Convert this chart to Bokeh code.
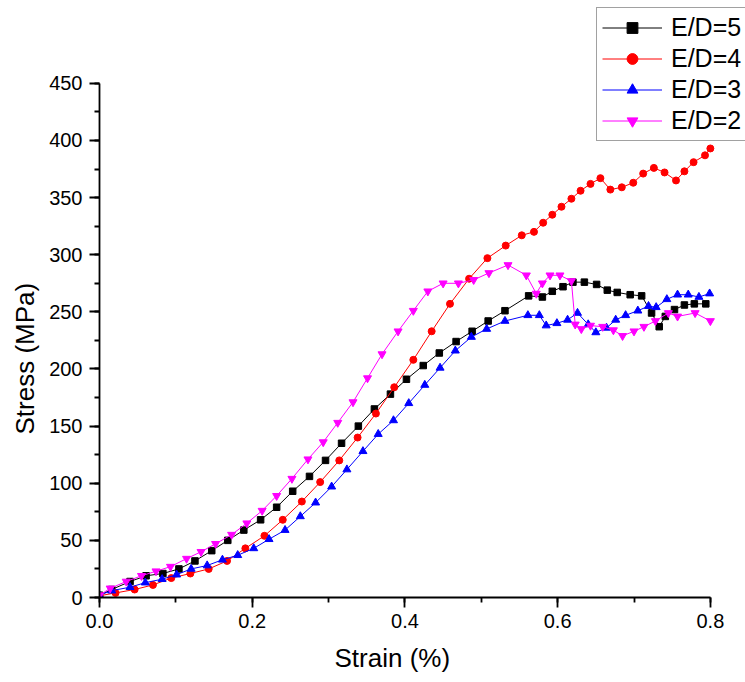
from bokeh.plotting import figure
from bokeh.models import Legend, LegendItem, SingleIntervalTicker, Range1d, Title
from bokeh.embed import file_html
from bokeh.resources import INLINE

# E/D=5 (black squares)
strain_5 = [0.0, 0.016, 0.040, 0.061, 0.083, 0.104, 0.125, 0.147, 0.168, 0.189, 0.211, 0.232,
            0.253, 0.275, 0.296, 0.317, 0.339, 0.360, 0.381, 0.402, 0.424, 0.445, 0.467, 0.488,
            0.509, 0.531, 0.562, 0.580, 0.593, 0.607, 0.620, 0.635, 0.651, 0.665, 0.678, 0.695,
            0.710, 0.723, 0.733, 0.741, 0.753, 0.766, 0.779, 0.794]
stress_5 = [2, 7, 14, 19, 21, 25, 32, 41, 50, 59, 68, 79,
            93, 106, 120, 135, 150, 165, 178, 191, 203, 214, 224, 233,
            242, 251, 264, 263, 268, 272, 276, 276, 274, 269, 267, 265,
            264, 249, 237, 246, 252, 256, 257, 257]

# E/D=4 (red circles)
strain_4 = [0.0, 0.021, 0.046, 0.070, 0.094, 0.119, 0.143, 0.167, 0.191, 0.216, 0.240, 0.265,
            0.289, 0.314, 0.338, 0.362, 0.386, 0.411, 0.435, 0.459, 0.484, 0.508, 0.532, 0.553,
            0.569, 0.581, 0.593, 0.605, 0.618, 0.630, 0.643, 0.656, 0.669, 0.684, 0.699, 0.712,
            0.726, 0.740, 0.755, 0.766, 0.778, 0.793, 0.800]
stress_4 = [1.5, 4, 7, 11, 17, 21, 25, 32, 43, 54, 68, 84,
            101, 120, 140, 161, 184, 208, 233, 257, 279, 297, 308, 317,
            320, 328, 335, 342, 349, 356, 362, 367, 357, 359, 363, 371,
            376, 372, 365, 373, 381, 387, 393]

# E/D=3 (blue triangles)
strain_3 = [0.0, 0.016, 0.040, 0.060, 0.082, 0.101, 0.120, 0.141, 0.161, 0.181, 0.202, 0.222,
            0.243, 0.263, 0.283, 0.304, 0.324, 0.345, 0.365, 0.385, 0.405, 0.426, 0.446, 0.466,
            0.487, 0.507, 0.531, 0.561, 0.576, 0.585, 0.599, 0.613, 0.626, 0.640, 0.650, 0.664,
            0.676, 0.689, 0.705, 0.719, 0.729, 0.743, 0.757, 0.771, 0.785, 0.799]
stress_3 = [2, 6, 9, 13, 16, 20, 25, 28, 33, 37, 43, 51,
            59, 71, 83, 97, 112, 128, 143, 155, 170, 186, 201, 216,
            228, 235, 242, 247, 247, 238, 240, 243, 249, 239, 232, 236,
            243, 247, 251, 255, 254, 261, 265, 265, 263, 266]

# E/D=2 (magenta inverted triangles)
strain_2 = [0.0, 0.014, 0.035, 0.055, 0.074, 0.093, 0.114, 0.133, 0.152, 0.173, 0.193, 0.213,
            0.232, 0.252, 0.273, 0.293, 0.312, 0.332, 0.351, 0.370, 0.391, 0.411, 0.430, 0.450,
            0.470, 0.490, 0.510, 0.535, 0.559, 0.572, 0.580, 0.590, 0.603, 0.618, 0.623, 0.631,
            0.643, 0.659, 0.673, 0.685, 0.700, 0.713, 0.728, 0.745, 0.757, 0.780, 0.800]
stress_2 = [2, 8, 14, 19, 23, 27, 34, 40, 47, 55, 65, 76,
            89, 104, 121, 136, 153, 171, 192, 213, 233, 251, 268, 275,
            275, 278, 284, 291, 282, 266, 275, 282, 282, 277, 239, 235,
            238, 237, 234, 229, 233, 237, 242, 249, 246, 249, 242]

labels = ["E/D=5", "E/D=4", "E/D=3", "E/D=2"]
x_label = "Strain (%)"
y_label = "Stress (MPa)"
FONT = "Liberation Sans"

# frame spans the whole upper-right area so the legend can sit above/right of the axes;
# the axes themselves are bounded to 0..0.8 and 0..450
p = figure(width=745, height=682, output_backend="svg", toolbar_location=None,
           x_range=Range1d(0, 0.846), y_range=Range1d(0, 522.5),
           min_border_left=98, min_border_right=0, min_border_top=0, min_border_bottom=84)
p.outline_line_color = None
p.xgrid.visible = False
p.ygrid.visible = False
p.background_fill_color = "white"
p.border_fill_color = "white"

series = [
    (strain_5, stress_5, "black", "square", 6.5),
    (strain_4, stress_4, "#ff0000", "circle", 7),
    (strain_3, stress_3, "#0000ff", "triangle", 8),
    (strain_2, stress_2, "#ff00ff", "inverted_triangle", 8),
]
items = []
for (xs, ys, col, mk, sz), lab in zip(series, labels):
    l = p.line(xs, ys, line_color=col, line_width=1)
    s = p.scatter(xs, ys, marker=mk, size=sz, fill_color=col, line_color=col)
    items.append(LegendItem(label=lab, renderers=[l, s]))

legend = Legend(items=items, location=(497, 456), orientation="vertical")
legend.label_text_font = FONT
legend.label_text_font_size = "25px"
legend.label_text_color = "black"
legend.glyph_width = 60
legend.glyph_height = 27
legend.label_height = 27
legend.label_width = 100
legend.spacing = 2
legend.padding = 5
legend.margin = 0
legend.label_standoff = 9
legend.border_line_color = "#444444"
legend.border_line_width = 1.5
legend.background_fill_color = "white"
legend.background_fill_alpha = 1
p.add_layout(legend)

p.xaxis.ticker = SingleIntervalTicker(interval=0.2, num_minor_ticks=2)
p.yaxis.ticker = SingleIntervalTicker(interval=50, num_minor_ticks=2)
p.xaxis.bounds = (0, 0.8)
p.yaxis.bounds = (0, 450)
p.xaxis.major_label_overrides = {0: "0.0"}

for ax in (p.xaxis[0], p.yaxis[0]):
    ax.axis_line_color = "black"
    ax.axis_line_width = 1.8
    ax.major_tick_line_color = "black"
    ax.minor_tick_line_color = "black"
    ax.major_tick_line_width = 1.8
    ax.minor_tick_line_width = 1.8
    ax.major_tick_in = 0
    ax.minor_tick_in = 0
    ax.major_tick_out = 10
    ax.minor_tick_out = 5
    ax.major_label_text_font = FONT
    ax.major_label_text_font_size = "20px"
    ax.major_label_text_color = "black"
p.xaxis.major_label_standoff = 6
p.yaxis.major_label_standoff = 7

# axis titles placed along the sides
ytitle = Title(text=y_label, align="left", offset=163, standoff=14,
               text_font=FONT, text_font_size="26px", text_font_style="normal",
               text_color="black")
p.add_layout(ytitle, "left")
xtitle = Title(text=x_label, align="left", offset=235, standoff=20,
               text_font=FONT, text_font_size="26px", text_font_style="normal",
               text_color="black")
p.add_layout(xtitle, "below")

open("out.html", "w").write(file_html(p, INLINE))
